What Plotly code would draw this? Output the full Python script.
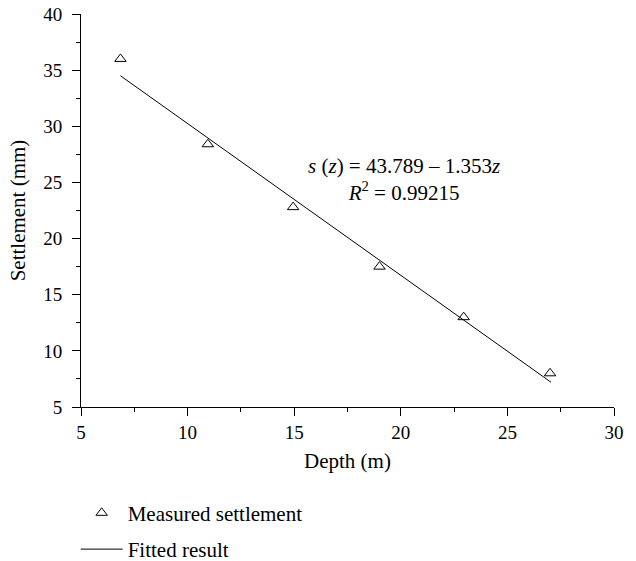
import plotly.graph_objects as go

depth_m = [6.85, 10.95, 14.95, 19.0, 22.95, 27.0]
settlement_mm = [36.0, 28.4, 22.8, 17.5, 13.0, 8.0]

# Fitted line end points
fit_depth = [6.85, 27.05]
fit_settlement = [34.5, 7.2]

x_ticks = [5, 10, 15, 20, 25, 30]
y_ticks = [5, 10, 15, 20, 25, 30, 35, 40]

FONT = "Liberation Serif, Times New Roman, serif"

fig = go.Figure()
fig.add_trace(go.Scatter(
    x=depth_m, y=settlement_mm, mode="markers", name="Measured settlement",
    legendgroup="a",
    marker=dict(symbol="triangle-up-open", size=10, color="black", line=dict(width=1, color="black")),
))
fig.add_trace(go.Scatter(
    x=fit_depth, y=fit_settlement, mode="lines", name="Fitted result",
    legendgroup="b",
    line=dict(color="black", width=1),
))

fig.add_annotation(x=20.13, y=25.3, xref="x", yref="y", showarrow=False,
                   align="center",
                   text="<i>s</i> (<i>z</i>) = 43.789 – 1.353<i>z</i><br><i>R</i><sup>2</sup> = 0.99215",
                   font=dict(family=FONT, size=21, color="black"))

TICKFONT = dict(family=FONT, size=19, color="black")
TITLEFONT = dict(family=FONT, size=21, color="black")

fig.update_xaxes(
    range=[5, 30], tickvals=x_ticks, automargin=False,
    showline=True, linecolor="black", linewidth=1,
    showgrid=False, zeroline=False,
    ticks="outside", ticklen=8, tickwidth=1, tickcolor="black",
    tickfont=TICKFONT,
    minor=dict(dtick=2.5, ticks="outside", ticklen=4, tickcolor="black", tickwidth=1),
    title=dict(text="Depth (m)", font=TITLEFONT, standoff=11),
)
fig.update_yaxes(
    range=[5, 40], tickvals=y_ticks, automargin=False,
    showline=True, linecolor="black", linewidth=1,
    showgrid=False, zeroline=False,
    ticks="outside", ticklen=8, tickwidth=1, tickcolor="black",
    tickfont=TICKFONT, ticklabelstandoff=6,
    minor=dict(dtick=2.5, ticks="outside", ticklen=4, tickcolor="black", tickwidth=1),
    title=dict(text="Settlement (mm)", font=TITLEFONT, standoff=11),
)

fig.update_layout(
    width=636, height=561,
    margin=dict(l=81, r=22, t=14, b=154),
    paper_bgcolor="white", plot_bgcolor="white",
    font=dict(family=FONT, size=19, color="black"),
    legend=dict(
        xref="paper", yref="container",
        x=-0.01, xanchor="left", y=0.1218, yanchor="top",
        orientation="v", traceorder="grouped", tracegroupgap=6,
        itemwidth=42, bgcolor="rgba(0,0,0,0)",
        font=dict(family=FONT, size=21, color="black"),
    ),
    showlegend=True,
)

fig.write_html("out.html")
